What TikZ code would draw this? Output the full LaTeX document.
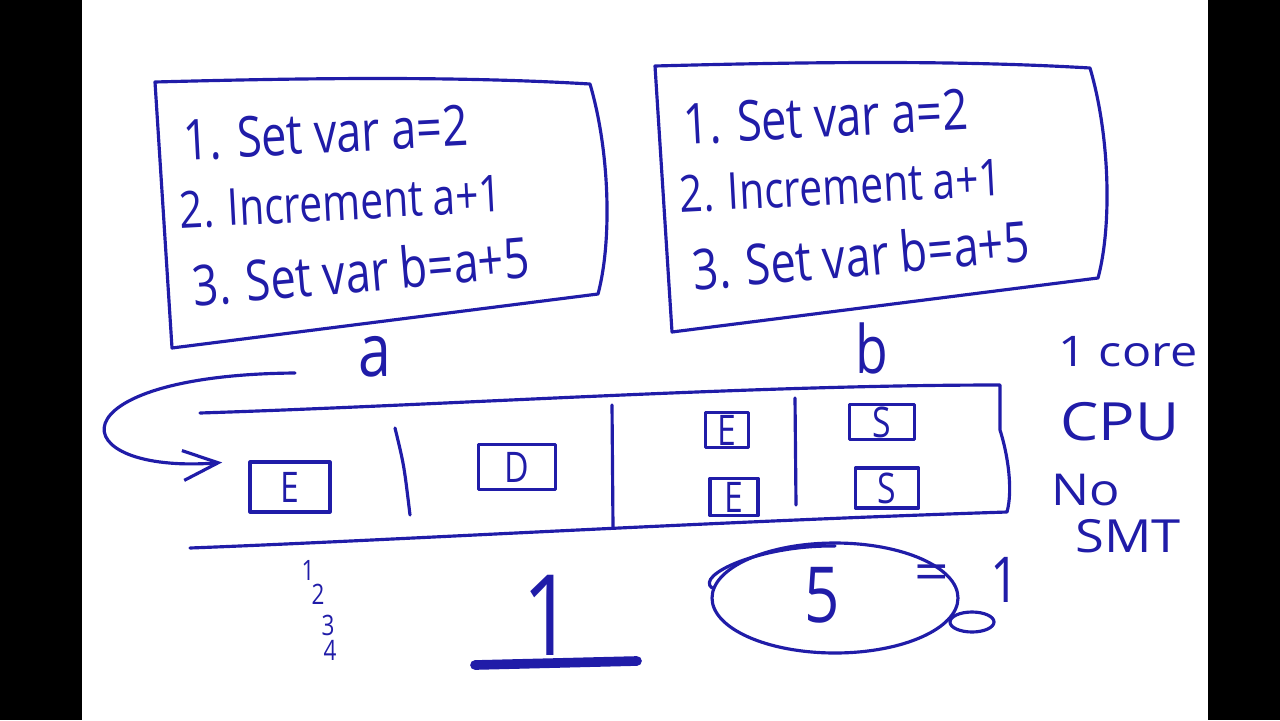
\documentclass[tikz,border=0pt]{standalone}
\usepackage{fontspec}
\usepackage{tikz}
\usetikzlibrary{positioning}
\usetikzlibrary{arrows.meta}
\newfontfamily\handfont{Open Sans}[FakeStretch=0.8]
\newfontfamily\handwide{Open Sans}[FakeStretch=1.15]
\newcommand{\handsize}[1]{\fontsize{#1}{#1}\selectfont}
\definecolor{ink}{RGB}{32,28,168}
\tikzset{
    pen/.style={draw=ink, line width=1.8pt, line cap=round, line join=round},
    hand/.style={text=ink, inner sep=0pt, font=\handfont\handsize{#1}},
    hand/.default=31,
    widehand/.style={text=ink, inner sep=0pt, font=\handwide\handsize{#1}},
    widehand/.default=30,
    slot/.style={pen, inner sep=0pt, text=ink, font=\handfont\handsize{24}}
}
\tikzset{
    steplist/.pic={
		\draw[pen] (0,0) .. controls (150,-4) and (300,-6) .. (435,2)
		      .. controls (455,70) and (457,160) .. (443,212) -- (17,266) -- cycle;
		\node[hand=32, rotate=3] (-set) at (171,51) {1. Set var a=2};
		\node[hand=29, rotate=3] (-inc) at (186,120) {2. Increment a+1};
		\node[hand=32, rotate=5] (-sum) at (206,189) {3. Set var b=a+5};
	}
}
\begin{document}
\begin{tikzpicture}[x=0.02cm, y=-0.02cm]
			\useasboundingbox (0,0) rectangle (1280,720);
			\fill[black] (0,0) rectangle (1280,720);
			\fill[white] (82,0) rectangle (1208,720);
			% the two threads
			\pic (thrA) at (155,82) {steplist};
			\pic (thrB) at (655,66) {steplist};
			\node[hand=42] (labA) at (375,357) {a};
			\node[hand=38] (labB) at (872,348) {b};
			% the core and its pipeline
			\draw[pen] (200,413) .. controls (450,405) and (750,385) .. (1000,385) -- (1000,430)
			      .. controls (1008,455) and (1013,490) .. (1007,512)
			      .. controls (700,522) and (400,540) .. (190,548);
			\draw[pen] (395,428) .. controls (404,465) .. (410,515);
			\draw[pen] (612,405) -- (613,528);
			\draw[pen] (795,398) -- (796,505);
			\node[slot, minimum width=1.6cm, minimum height=1cm] (fetA) at (290,487) {E};
			\node[slot, minimum width=1.54cm, minimum height=0.9cm] (decA) at (517,467) {D};
			\node[slot, minimum width=0.86cm, minimum height=0.7cm] (exeA) at (727,430) {E};
			\node[slot, minimum width=0.96cm, minimum height=0.74cm] (exeB) at (734,497) {E};
			\node[slot, minimum width=1.3cm, minimum height=0.7cm] (stoA) at (882,422) {S};
			\node[slot, minimum width=1.26cm, minimum height=0.8cm] (stoB) at (887,488) {S};
			\coordinate (loop) at (295,373);
			\draw[pen, shorten >=15pt, -{Straight Barb[length=20pt, width=17pt]}]
			      (loop) .. controls (50,375) and (60,475) .. (fetA.north west);
			% notes on the right
			\node[widehand=24] (cores) at (1128,352) {1 core};
			\node[widehand=30] (cpu) at (1120,422) {CPU};
			\node[widehand=25] (no) at (1086,490) {No};
			\node[widehand=26] (smt) at (1128,536) {SMT};
			% counts below
			\node[hand=16] (cntA) at (308,570) {1};
			\node[hand=16, below right=2pt and -2pt of cntA] (cntB) {2};
			\node[hand=16] (cntC) at (328,625) {3};
			\node[hand=16] (cntD) at (330,650) {4};
			\node[hand=64] (one) at (548,615) {1};
			\draw[pen, line width=5.5pt] (475,665) -- (637,661);
			\draw[pen] (835,598) ellipse [x radius=2.46cm, y radius=1.1cm];
			\draw[pen] (712,588) .. controls (695,575) and (760,545) .. (835,546);
			\node[hand=44] (five) at (822,595) {5};
			\node[widehand=30] (eq) at (932,578) {=};
			\node[hand=36] (res) at (1005,580) {1};
			\draw[pen] (972,622) ellipse [x radius=0.44cm, y radius=0.2cm];
		\end{tikzpicture}
\end{document}
